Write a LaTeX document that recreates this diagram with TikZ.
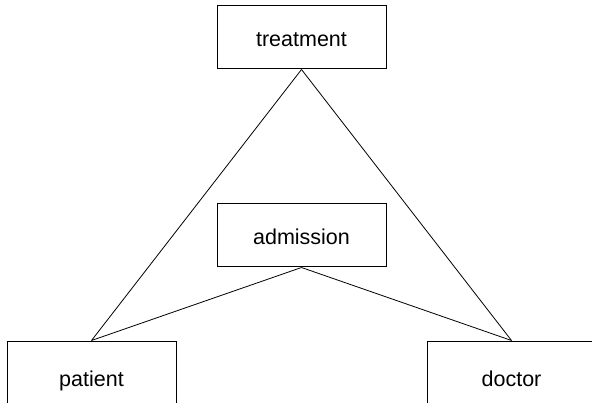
\documentclass[tikz,border=0pt]{standalone}
\usepackage{fontspec}
\setmainfont{Liberation Sans}
\begin{document}
\begin{tikzpicture}[x=1pt,y=1pt,
  entity/.style={draw=black,line width=1pt,minimum width=169pt,minimum height=63pt,inner sep=0pt,text height=18pt,text depth=0pt,fill=white,font=\fontsize{21.5}{24}\selectfont},
  lowtext/.style={text height=28pt,text depth=0pt},
  link/.style={draw=black,line width=0.8pt}]
\useasboundingbox (0,0) rectangle (592,402);
\clip (0,0) rectangle (592,402);
\node[entity] (treatment) at (301.5,364.5) {treatment};
\node[entity] (admission) at (301.5,166.5) {admission};
\node[entity,lowtext] (patient) at (91.5,29.5) {patient};
\node[entity,lowtext] (doctor) at (511.5,29.5) {doctor};
\draw[link] (treatment.south) -- (patient.north);
\draw[link] (treatment.south) -- (doctor.north);
\draw[link] (admission.south) -- (patient.north);
\draw[link] (admission.south) -- (doctor.north);
\end{tikzpicture}
\end{document}
